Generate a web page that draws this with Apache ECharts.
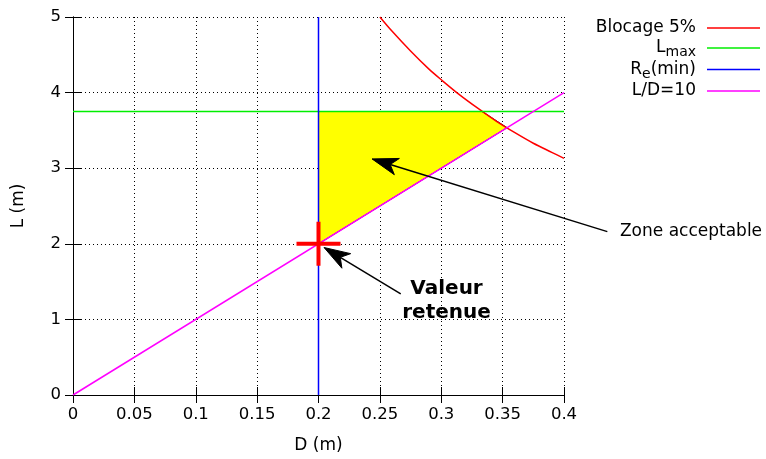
<!DOCTYPE html>
<html><head><meta charset="utf-8">
<script src="https://cdn.jsdelivr.net/npm/echarts@6/dist/echarts.min.js"></script>
<style>html,body{margin:0;padding:0;background:#fff}#c{width:766px;height:459px}</style>
</head><body><div id="c"></div>
<script>
// ---- data ----
const blocageD = [0.25, 0.26, 0.275, 0.29, 0.30, 0.315, 0.33, 0.345, 0.36, 0.375, 0.39, 0.40];
const blocageL = [5.00, 4.81, 4.55, 4.31, 4.17, 3.97, 3.79, 3.62, 3.47, 3.33, 3.21, 3.13];
const lmaxD = [0, 0.4];
const lmaxL = [3.75, 3.75];
const reminD = [0.2, 0.2];
const reminL = [0, 5];
const ratioD = [0, 0.4];
const ratioL = [0, 4];
const zoneD = [0.2, 0.2, 0.3333, 0.3536];
const zoneL = [2.0, 3.75, 3.75, 3.536];
const choiceD = [0.2];
const choiceL = [2.0];
// arrows: [tailD, tailL, tipD, tipL]
const arrowTails = [[0.4353, 2.161], [0.267, 1.339]];
const arrowTips = [[0.2436, 3.123], [0.2045, 1.951]];
const noteTexts = ['Zone acceptable', 'Valeur\nretenue'];
const notePos = [[0.4456, 2.161], [0.3043, 1.247]];
const legendNames = ['Blocage 5%', 'Lmax', 'Re(min)', 'L/D=10'];

const zip = (a, b) => a.map((v, i) => [v, b[i]]);
const FONT = 'DejaVu Sans';

const chart = echarts.init(document.getElementById('c'));

function axisCommon(extra) {
  return Object.assign({
    type: 'value',
    axisLine: { show: true, lineStyle: { color: '#000', width: 1 } },
    axisTick: { show: true, inside: true, length: 8, lineStyle: { color: '#000', width: 1 } },
    splitLine: { show: false },
    axisLabel: { show: false },
  }, extra);
}

const option = {
  animation: false,
  backgroundColor: '#fff',
  textStyle: { fontFamily: FONT },
  grid: { left: 73, right: 202, top: 17, bottom: 61 },
  legend: {
    data: legendNames,
    orient: 'vertical',
    right: 1,
    top: 13,
    align: 'right',
    itemWidth: 53,
    itemHeight: 1.6,
    itemGap: 0,
    icon: 'rect',
    selectedMode: false,
    textStyle: {
      fontFamily: FONT, fontSize: 17, color: '#000', lineHeight: 20, padding: [0, 6, 0, 0],
      rich: {
        sub: { fontFamily: FONT, fontSize: 14, color: '#000', padding: [9, 0, 0, 0] }
      }
    },
    formatter: n => n === 'Lmax' ? 'L{sub|max}' : (n === 'Re(min)' ? 'R{sub|e}(min)' : n)
  },
  xAxis: [
    axisCommon({
      min: 0, max: 0.4, interval: 0.05, position: 'bottom',
      name: 'D (m)', nameLocation: 'middle', nameGap: 42,
      nameTextStyle: { fontFamily: FONT, fontSize: 17, color: '#000' },
      axisLabel: { show: true, color: '#000', fontFamily: FONT, fontSize: 16.5, margin: 11,
        formatter: v => String(+v.toFixed(2)) },
      splitLine: { show: true, lineStyle: { color: '#000', type: [1, 3], width: 1 } }
    }),
    axisCommon({ min: 0, max: 0.4, interval: 0.05, position: 'top' })
  ],
  yAxis: [
    axisCommon({
      min: 0, max: 5, interval: 1, position: 'left',
      name: 'L (m)', nameLocation: 'middle', nameGap: 46,
      nameTextStyle: { fontFamily: FONT, fontSize: 17, color: '#000' },
      axisLabel: { show: true, color: '#000', fontFamily: FONT, fontSize: 16.5, margin: 12 },
      splitLine: { show: true, lineStyle: { color: '#000', type: [1, 3], width: 1 } }
    }),
    axisCommon({ min: 0, max: 5, interval: 1, position: 'right' })
  ],
  series: [
    {
      type: 'custom', name: 'zone', z: 1, clip: true,
      data: [zip(zoneD, zoneL)[0]],
      renderItem: (params, api) => ({
        type: 'polygon',
        shape: { points: zip(zoneD, zoneL).map(p => api.coord(p)) },
        style: { fill: '#ffff00', stroke: '#000', lineWidth: 1 }
      })
    },
    { type: 'line', name: 'Blocage 5%', data: zip(blocageD, blocageL), smooth: 0.3, showSymbol: false,
      color: '#ff0000', lineStyle: { color: '#ff0000', width: 1.5 }, z: 3 },
    { type: 'line', name: 'Lmax', data: zip(lmaxD, lmaxL), showSymbol: false,
      color: '#00ee00', lineStyle: { color: '#00ee00', width: 1.5 }, z: 3 },
    { type: 'line', name: 'Re(min)', data: zip(reminD, reminL), showSymbol: false,
      color: '#0000ff', lineStyle: { color: '#0000ff', width: 1.5 }, z: 3 },
    { type: 'line', name: 'L/D=10', data: zip(ratioD, ratioL), showSymbol: false,
      color: '#ff00ff', lineStyle: { color: '#ff00ff', width: 1.5 }, z: 3 },
    {
      type: 'scatter', name: 'choice', data: zip(choiceD, choiceL), z: 5,
      symbol: 'path://M0,20 H44 V24 H0 Z M20,0 H24 V44 H20 Z', symbolSize: 44,
      itemStyle: { color: '#ff0000', opacity: 1 }
    },
    {
      type: 'custom', name: 'arrows', z: 6, clip: false,
      data: arrowTails.map((t, i) => [t[0], t[1], arrowTips[i][0], arrowTips[i][1]]),
      renderItem: (params, api) => {
        const a = api.coord([api.value(0), api.value(1)]);
        const b = api.coord([api.value(2), api.value(3)]);
        const dx = a[0] - b[0], dy = a[1] - b[1];
        const len = Math.hypot(dx, dy);
        const ux = dx / len, uy = dy / len, nx = -uy, ny = ux;
        const L = 26, W = 8.5, N = 19;
        const c1 = [b[0] + L * ux + W * nx, b[1] + L * uy + W * ny];
        const c2 = [b[0] + L * ux - W * nx, b[1] + L * uy - W * ny];
        const nt = [b[0] + N * ux, b[1] + N * uy];
        return {
          type: 'group',
          children: [
            { type: 'line', shape: { x1: a[0], y1: a[1], x2: nt[0], y2: nt[1] },
              style: { stroke: '#000', lineWidth: 1.5 } },
            { type: 'polygon', shape: { points: [b, c1, nt, c2] },
              style: { fill: '#000', stroke: '#000', lineWidth: 1 } }
          ]
        };
      }
    },
    {
      type: 'custom', name: 'notes', z: 6, clip: false,
      data: notePos.map((p, i) => [p[0], p[1], i]),
      renderItem: (params, api) => {
        const p = api.coord([api.value(0), api.value(1)]);
        const i = api.value(2);
        const bold = i === 1;
        return {
          type: 'text', x: p[0], y: p[1],
          style: {
            text: noteTexts[i],
            fontFamily: FONT,
            fontSize: bold ? 20 : 17,
            fontWeight: bold ? 'bold' : 'normal',
            lineHeight: bold ? 24 : 20,
            fill: '#000',
            align: bold ? 'center' : 'left',
            verticalAlign: 'middle'
          }
        };
      }
    }
  ]
};
chart.setOption(option);
</script></body></html>
